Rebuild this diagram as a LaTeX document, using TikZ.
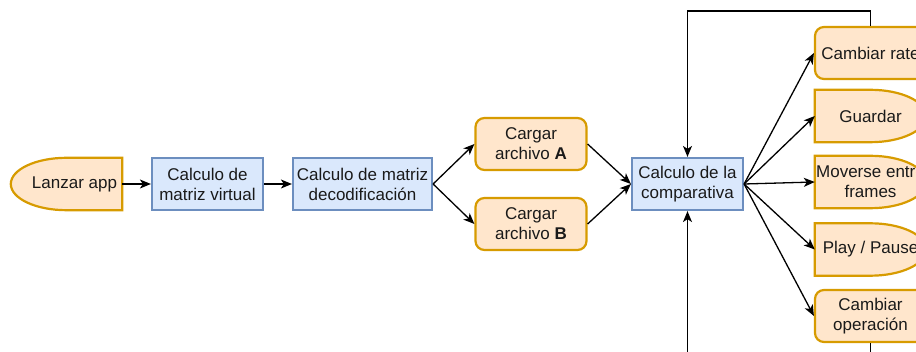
\documentclass[tikz,border=0pt]{standalone}
\usepackage{fontspec}
\setmainfont{Liberation Sans}
\usetikzlibrary{arrows.meta,calc}
\definecolor{ofill}{HTML}{FFE6CC}
\definecolor{ostroke}{HTML}{D79B00}
\definecolor{bfill}{HTML}{DAE8FC}
\definecolor{bstroke}{HTML}{6C8EBF}
\definecolor{txt}{HTML}{1A1A1A}
\tikzset{
 base/.style={align=center, inner sep=0pt, font=\fontsize{17}{20}\selectfont, text=txt},
 bluebox/.style={base, draw=bstroke, fill=bfill, line width=2.2pt, minimum height=52pt},
 orbox/.style={base, draw=ostroke, fill=ofill, line width=2.2pt, rounded corners=9pt, minimum width=111pt, minimum height=52pt},
 delaynode/.style={base, minimum width=111pt, minimum height=52pt},
 delayshape/.style={draw=ostroke, fill=ofill, line width=2.2pt},
 conn/.style={line width=1.3pt, -{Stealth[length=11pt,width=9pt,inset=3pt]}}
}
\newcommand\DelayRight[1]{%
 \path[delayshape] (#1.north west) -- (#1.north)
 .. controls ($(#1.north)!0.5523!(#1.north east)$) and ($(#1.east)!0.5523!(#1.north east)$) .. (#1.east)
 .. controls ($(#1.east)!0.5523!(#1.south east)$) and ($(#1.south)!0.5523!(#1.south east)$) .. (#1.south)
 -- (#1.south west) -- cycle;}
\newcommand\DelayLeft[1]{%
 \path[delayshape] (#1.north east) -- (#1.north)
 .. controls ($(#1.north)!0.5523!(#1.north west)$) and ($(#1.west)!0.5523!(#1.north west)$) .. (#1.west)
 .. controls ($(#1.west)!0.5523!(#1.south west)$) and ($(#1.south)!0.5523!(#1.south west)$) .. (#1.south)
 -- (#1.south east) -- cycle;}
\begin{document}
\begin{tikzpicture}[x=1pt,y=-1pt]
\useasboundingbox (0,0) rectangle (916,352);
\clip (0,0) rectangle (916,352);

% Lanzar app (delay shape, curved left)
\node[delaynode] (lanzar) at (66.5,184) {};
\DelayLeft{lanzar}
\node[base] (lanzart) at (74.5,184) {Lanzar app};

\node[bluebox, minimum width=111pt] (virtual) at (207.5,184) {Calculo de\\matriz virtual};
\node[bluebox, minimum width=139pt] (decod) at (362.5,184) {Calculo de matriz\\decodificación};
\node[orbox] (cargA) at (531,144) {Cargar\\archivo \textbf{A}};
\node[orbox] (cargB) at (531,224) {Cargar\\archivo \textbf{B}};
\node[bluebox, minimum width=111pt] (comp) at (687.5,184) {Calculo de la\\comparativa};

% right column
\node[orbox] (rate) at (870.5,53) {Cambiar rate};
\node[delaynode] (guardar) at (870.5,116) {};
\DelayRight{guardar}
\node[base] (guardart) at (guardar) {Guardar};
\node[delaynode] (moverse) at (870.5,182) {};
\DelayRight{moverse}
\node[base] (moverset) at (moverse) {Moverse entre\\frames};
\node[delaynode] (play) at (870.5,249.5) {};
\DelayRight{play}
\node[base] (playt) at (play) {Play / Pause};
\node[orbox] (op) at (870.5,316) {Cambiar\\operación};

% connectors
\draw[conn] (lanzar.east) -- (virtual.west);
\draw[conn] (virtual) -- (decod);
\draw[conn] (decod.east) -- (cargA.west);
\draw[conn] (decod.east) -- (cargB.west);
\draw[conn] (cargA.east) -- (comp.west);
\draw[conn] (cargB.east) -- (comp.west);
\draw[conn] (comp.east) -- (rate.west);
\draw[conn] (comp.east) -- (guardar.west);
\draw[conn] (comp.east) -- (moverse.west);
\draw[conn] (comp.east) -- (play.west);
\draw[conn] (comp.east) -- (op.west);

\coordinate (looptop) at (0,11);
\coordinate (loopbot) at (0,372);
\draw[conn] (rate.north) -- (rate.north |- looptop) -| (comp.north);
\draw[conn] (op.south) -- (op.south |- loopbot) -| (comp.south);
\end{tikzpicture}
\end{document}
